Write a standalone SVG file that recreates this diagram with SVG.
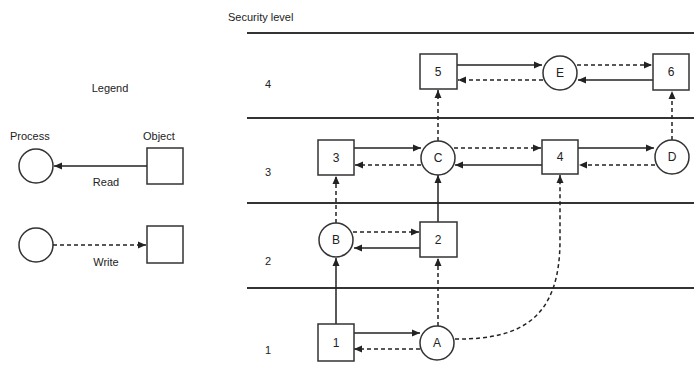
<svg xmlns="http://www.w3.org/2000/svg" width="694" height="371" viewBox="0 0 694 371">
<style>
text{font-family:"Liberation Sans",Arial,sans-serif;fill:#222}
.lbl{font-size:11px}
.nt{font-size:12px;text-anchor:middle;dominant-baseline:central}
.nd{fill:#fff;stroke:#333;stroke-width:1.5}
.lvl{stroke:#333;stroke-width:2}
.s{fill:none;stroke:#222;stroke-width:1.5;marker-end:url(#ah)}
.d{fill:none;stroke:#222;stroke-width:1.5;stroke-dasharray:4 3;marker-end:url(#ah)}
</style>
<defs>
<marker id="ah" markerUnits="userSpaceOnUse" markerWidth="9" markerHeight="8" refX="8" refY="4" orient="auto">
<path d="M0,0.5 L8,4 L0,7.5 Z" fill="#222"/>
</marker>
</defs>
<rect width="694" height="371" fill="#fff"/>
<g id="levels">
<text class="lbl" x="228" y="21">Security level</text>
<line class="lvl" x1="247" y1="33" x2="694" y2="33"/>
<line class="lvl" x1="247" y1="118" x2="694" y2="118"/>
<line class="lvl" x1="247" y1="203" x2="694" y2="203"/>
<line class="lvl" x1="247" y1="288" x2="694" y2="288"/>
<text class="lbl" x="265" y="88">4</text>
<text class="lbl" x="265" y="176">3</text>
<text class="lbl" x="265" y="265">2</text>
<text class="lbl" x="265" y="354">1</text>
</g>
<g id="legend">
<text class="lbl" x="110" y="92" text-anchor="middle">Legend</text>
<text class="lbl" x="10" y="140">Process</text>
<text class="lbl" x="143" y="140">Object</text>
<circle class="nd" cx="36" cy="166" r="17"/>
<rect class="nd" x="147" y="148" width="36" height="36"/>
<line class="s" x1="147" y1="166" x2="54" y2="166"/>
<text class="lbl" x="106" y="186" text-anchor="middle">Read</text>
<circle class="nd" cx="36" cy="245" r="17"/>
<rect class="nd" x="147" y="226" width="36" height="37"/>
<line class="d" x1="53" y1="245" x2="146" y2="245"/>
<text class="lbl" x="106" y="266" text-anchor="middle">Write</text>
</g>
<g id="connectors">
<line class="s" x1="457" y1="65" x2="542" y2="65"/>
<line class="d" x1="543" y1="80" x2="458" y2="80"/>
<line class="d" x1="577" y1="65" x2="652" y2="65"/>
<line class="s" x1="653" y1="80" x2="578" y2="80"/>
<line class="s" x1="354" y1="148" x2="421" y2="148"/>
<line class="d" x1="421" y1="165" x2="355" y2="165"/>
<line class="d" x1="454" y1="148" x2="541" y2="148"/>
<line class="s" x1="542" y1="165" x2="455" y2="165"/>
<line class="s" x1="578" y1="148" x2="654" y2="148"/>
<line class="d" x1="655" y1="165" x2="579" y2="165"/>
<line class="d" x1="438" y1="141" x2="438" y2="90"/>
<line class="d" x1="672" y1="140" x2="672" y2="91"/>
<line class="d" x1="336" y1="223" x2="336" y2="176"/>
<line class="s" x1="438" y1="222" x2="438" y2="175"/>
<line class="d" x1="353" y1="232" x2="419" y2="232"/>
<line class="s" x1="420" y1="248" x2="354" y2="248"/>
<line class="s" x1="336" y1="324" x2="336" y2="258"/>
<line class="d" x1="438" y1="326" x2="438" y2="258"/>
<line class="s" x1="354" y1="333" x2="420" y2="333"/>
<line class="d" x1="420" y1="349" x2="354" y2="349"/>
<path class="d" d="M455,339 C525,340 560,315 560,240 L560,175"/>
</g>
<g id="n5"><rect class="nd" x="420" y="54" width="37" height="35"/><text class="nt" x="438" y="72">5</text></g>
<g id="nE"><circle class="nd" cx="560" cy="73" r="17"/><text class="nt" x="560" y="73">E</text></g>
<g id="n6"><rect class="nd" x="653" y="54" width="36" height="36"/><text class="nt" x="671" y="72">6</text></g>
<g id="n3"><rect class="nd" x="318" y="140" width="36" height="35"/><text class="nt" x="336" y="158">3</text></g>
<g id="nC"><circle class="nd" cx="438" cy="158" r="17"/><text class="nt" x="438" y="158">C</text></g>
<g id="n4"><rect class="nd" x="542" y="140" width="36" height="34"/><text class="nt" x="560" y="157">4</text></g>
<g id="nD"><circle class="nd" cx="672" cy="157" r="17"/><text class="nt" x="672" y="157">D</text></g>
<g id="nB"><circle class="nd" cx="336" cy="240" r="17"/><text class="nt" x="336" y="240">B</text></g>
<g id="n2"><rect class="nd" x="420" y="222" width="37" height="35"/><text class="nt" x="438" y="240">2</text></g>
<g id="n1"><rect class="nd" x="318" y="324" width="36" height="37"/><text class="nt" x="336" y="343">1</text></g>
<g id="nA"><circle class="nd" cx="437" cy="343" r="17"/><text class="nt" x="437" y="343">A</text></g>
</svg>
